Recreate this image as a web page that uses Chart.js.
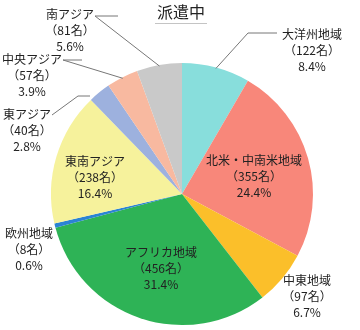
<!DOCTYPE html>
<html>
<head>
<meta charset="utf-8">
<script src="https://cdn.jsdelivr.net/npm/chart.js@4"></script>
<style>
  body { margin: 0; background: #fff; }
  #wrap { width: 360px; height: 330px; }
</style>
</head>
<body>
<div id="wrap"><canvas id="myChart" width="360" height="330"></canvas></div>
<script>
const regions = ['大洋州地域', '北米・中南米地域', '中東地域', 'アフリカ地域', '欧州地域', '東南アジア', '東アジア', '中央アジア', '南アジア'];
const counts = [122, 355, 97, 456, 8, 238, 40, 57, 81];
const percents = ['8.4%', '24.4%', '6.7%', '31.4%', '0.6%', '16.4%', '2.8%', '3.9%', '5.6%'];
const colors = ['#88dedc', '#f8877a', '#fbbf2a', '#2eb356', '#2b84d4', '#f6f29c', '#9db1de', '#f8b9a0', '#c9c9c9'];

// label layout: text centre offset from pie centre, and optional leader line bend
const labelPlace = [
  { dx: 130, dy: -144, line: [[66, -161], [95, -161]] },
  { dx: 72, dy: -18 },
  { dx: 125, dy: 102 },
  { dx: -21, dy: 74 },
  { dx: -153, dy: 55 },
  { dx: -87, dy: -17 },
  { dx: -155, dy: -64, line: [[-130, -79], [-104, -98], [-92, -98]] },
  { dx: -150, dy: -119, line: [[-119, -134], [-100, -134]] },
  { dx: -112, dy: -164, line: [[-87, -178], [-64, -178]] }
];

const labelPlugin = {
  id: 'labels',
  afterDraw(chart) {
    const ctx = chart.ctx;
    const arcs = chart.getDatasetMeta(0).data;
    ctx.save();
    // title
    ctx.fillStyle = '#222';
    ctx.font = '16px "Noto Sans CJK JP"';
    ctx.textAlign = 'center';
    ctx.textBaseline = 'middle';
    ctx.fillText('派遣中', 181, 12);
    ctx.strokeStyle = '#c4c4c4';
    ctx.lineWidth = 1;
    ctx.beginPath();
    ctx.moveTo(155, 23.5);
    ctx.lineTo(207, 23.5);
    ctx.stroke();

    ctx.font = '12px "Noto Sans CJK JP"';
    arcs.forEach((arc, i) => {
      const cx = arc.x, cy = arc.y;
      const p = labelPlace[i];
      const tx = cx + p.dx, ty = cy + p.dy;
      ctx.fillStyle = '#222';
      ctx.fillText(regions[i], tx, ty - 16);
      ctx.fillText('（' + counts[i] + '名）', tx, ty);
      ctx.fillText(percents[i], tx, ty + 16);
      if (p.line) {
        const mid = (arc.startAngle + arc.endAngle) / 2;
        const r = arc.outerRadius - 1;
        ctx.strokeStyle = '#777';
        ctx.lineWidth = 1;
        ctx.beginPath();
        if (i === 6) {
          ctx.moveTo(cx + p.line[0][0], cy + p.line[0][1]);
          ctx.lineTo(cx + p.line[1][0], cy + p.line[1][1]);
          ctx.lineTo(cx + p.line[2][0], cy + p.line[2][1]);
        } else {
          ctx.moveTo(cx + p.line[1][0], cy + p.line[1][1]);
          ctx.lineTo(cx + p.line[0][0], cy + p.line[0][1]);
          ctx.lineTo(cx + Math.cos(mid) * r, cy + Math.sin(mid) * r);
        }
        ctx.stroke();
      }
    });
    ctx.restore();
  }
};

new Chart(document.getElementById('myChart'), {
  type: 'pie',
  data: {
    labels: regions,
    datasets: [{
      data: counts,
      backgroundColor: colors,
      borderWidth: 0
    }]
  },
  options: {
    responsive: false,
    animation: false,
    layout: { padding: { top: 63, bottom: 5, left: 51, right: 47 } },
    plugins: {
      legend: { display: false },
      tooltip: { enabled: false }
    }
  },
  plugins: [labelPlugin]
});
</script>
</body>
</html>
